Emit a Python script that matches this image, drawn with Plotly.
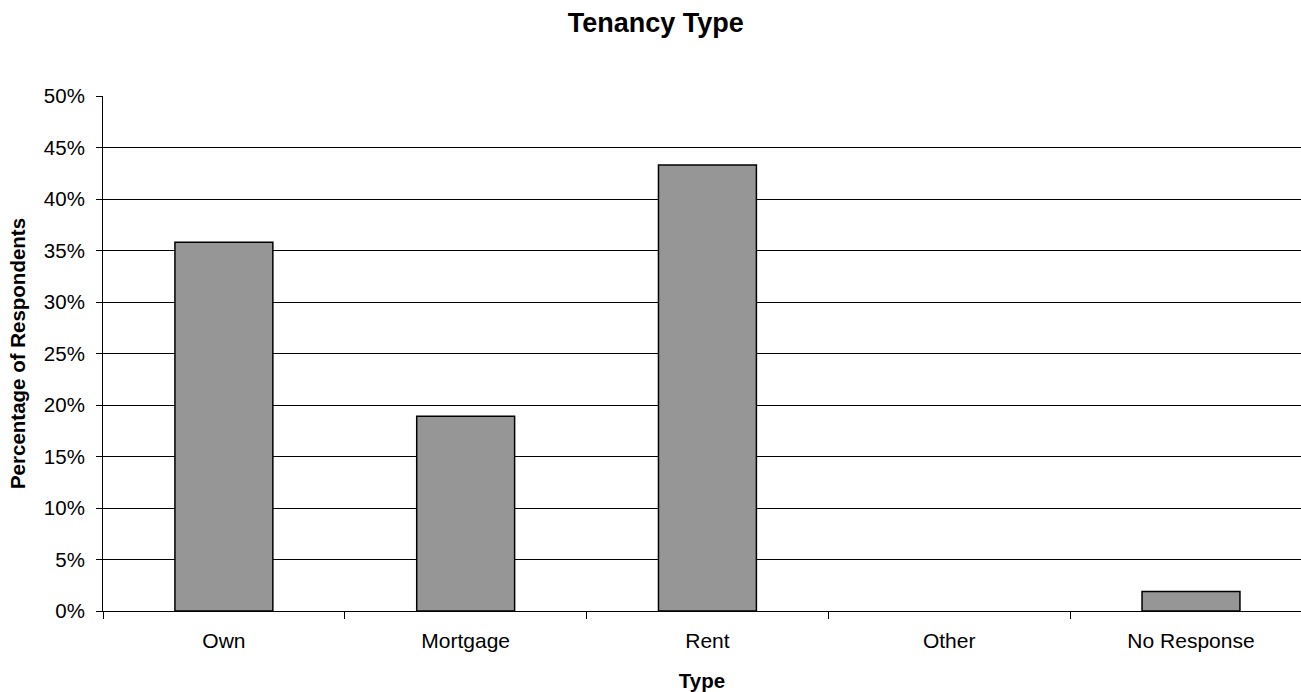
import plotly.graph_objects as go

categories = ["Own", "Mortgage", "Rent", "Other", "No Response"]
values = [0.358, 0.189, 0.433, 0.0, 0.019]
y_ticks = [0, 0.05, 0.10, 0.15, 0.20, 0.25, 0.30, 0.35, 0.40, 0.45, 0.50]

FONT = "Liberation Sans, Arial, sans-serif"

# zero-height bars get no outline (as in the reference)
outline_widths = [1.5 if v > 0 else 0 for v in values]

fig = go.Figure(
    go.Bar(
        x=categories,
        y=values,
        width=0.405,
        marker=dict(color="#969696", line=dict(color="#000000", width=outline_widths)),
        hoverinfo="x+y",
    )
)

fig.update_layout(
    width=1301,
    height=692,
    paper_bgcolor="white",
    plot_bgcolor="white",
    margin=dict(l=103, r=0, t=96, b=81, autoexpand=False),
    font=dict(family=FONT, color="#000000", size=20),
    showlegend=False,
    title=dict(
        text="<b>Tenancy Type</b>",
        font=dict(family=FONT, size=27, color="#000000"),
        x=655.8 / 1301,
        xanchor="center",
        xref="container",
        yref="container",
        y=1 - 23 / 692,
        yanchor="middle",
    ),
)

fig.update_xaxes(
    type="category",
    range=[-0.5, 4.455],
    showgrid=False,
    showline=True,
    linecolor="#000000",
    linewidth=1,
    ticks="outside",
    tickson="boundaries",
    ticklen=7,
    tickcolor="#000000",
    tickfont=dict(family=FONT, size=21),
    ticklabelstandoff=11,
    title=dict(text="<b>Type</b>", font=dict(family=FONT, size=20.5), standoff=22),
    automargin=False,
    zeroline=False,
)

fig.update_yaxes(
    range=[0, 0.5],
    tickvals=y_ticks,
    tickformat=".0%",
    showgrid=True,
    gridcolor="#000000",
    gridwidth=1,
    showline=True,
    linecolor="#000000",
    linewidth=1,
    ticks="outside",
    ticklen=6,
    tickcolor="#000000",
    tickfont=dict(family=FONT, size=20.5),
    ticklabelstandoff=7,
    title=dict(text="<b>Percentage of Respondents</b>", font=dict(family=FONT, size=20.5), standoff=12),
    automargin=False,
    zeroline=False,
)

fig.write_html(
    "out.html",
    config={"displayModeBar": False},
    post_script="document.body.style.margin='0px';",
)
